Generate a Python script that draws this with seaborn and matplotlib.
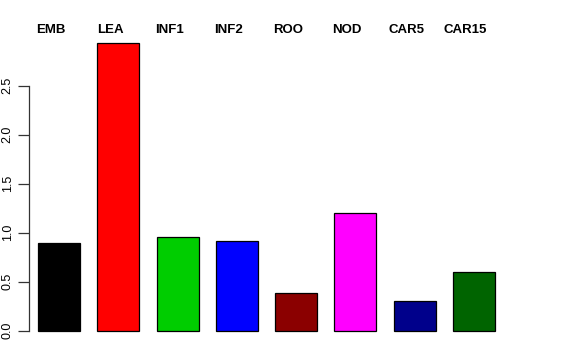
import matplotlib
matplotlib.use("Agg")
import matplotlib.pyplot as plt
import seaborn as sns
import pandas as pd

categories = ["EMB", "LEA", "INF1", "INF2", "ROO", "NOD", "CAR5", "CAR15"]
values = [0.892, 2.939, 0.953, 0.912, 0.382, 1.198, 0.306, 0.596]
colors = ["#000000", "#FF0000", "#00CD00", "#0000FF", "#8B0000", "#FF00FF", "#00008B", "#006400"]
yticks = [0.0, 0.5, 1.0, 1.5, 2.0, 2.5]
ytick_labels = ["0.0", "0.5", "1.0", "1.5", "2.0", "2.5"]

sns.set_style("white")
plt.rcParams['font.family'] = ['Liberation Sans', 'DejaVu Sans']
plt.rcParams['text.color'] = 'black'
plt.rcParams['ytick.color'] = 'black'

W, H = 576, 360
fig = plt.figure(figsize=(W / 100, H / 100), dpi=100)
left_px, right_px = 29, 520
top_px, bottom_px = 31.5, 342.2
ax = fig.add_axes([left_px / W, 1 - bottom_px / H, (right_px - left_px) / W, (bottom_px - top_px) / H])

df = pd.DataFrame({"cat": categories, "val": values})
sns.barplot(data=df, x="cat", y="val", hue="cat", palette=colors, legend=False,
            width=0.71, edgecolor="black", linewidth=0.9, saturation=1, ax=ax)

ax.set_xlim(-0.51, 7.78)
ax.set_ylim(-0.117, 3.053)
ax.set_xlabel("")
ax.set_ylabel("")
ax.set_xticks([])
for s in ["top", "right", "bottom"]:
    ax.spines[s].set_visible(False)
ax.spines["left"].set_bounds(0, 2.5)
ax.spines["left"].set_color("#333333")
ax.spines["left"].set_linewidth(0.9)
ax.set_yticks(yticks)
ax.set_yticklabels(ytick_labels, rotation=90, va="center", fontsize=9)
ax.tick_params(axis="y", length=8, width=0.9, color="#333333", labelcolor="black", pad=3, left=True)

for i, c in enumerate(categories):
    ax.text(i - 0.14, 3.07, c, ha="center", va="center", fontsize=9.5,
            fontweight="bold", color="black", clip_on=False)

fig.savefig("out.png", dpi=100)
